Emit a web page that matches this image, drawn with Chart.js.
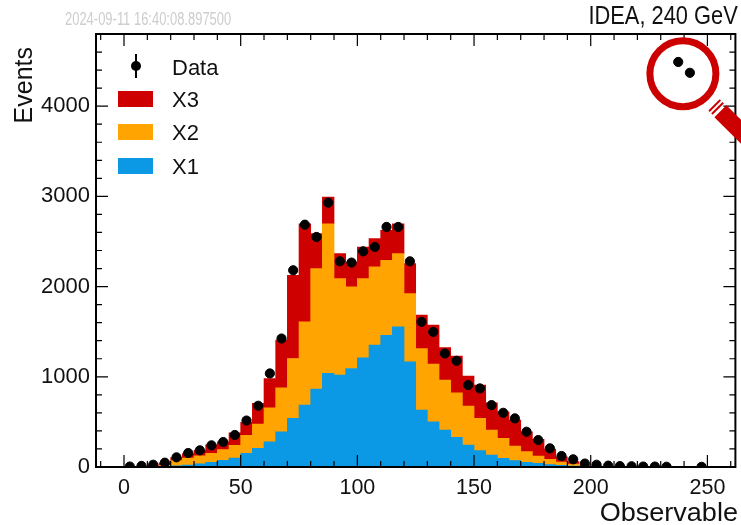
<!DOCTYPE html>
<html>
<head>
<meta charset="utf-8">
<script src="https://cdn.jsdelivr.net/npm/chart.js@4.4.1/dist/chart.umd.min.js"></script>
<style>
  body { margin: 0; background: #fff; }
  #wrap { position: relative; width: 741px; height: 525px; font-family: "Liberation Sans", Arial, sans-serif; color: #111; }
  #wrap canvas { position: absolute; left: 0; top: 0; }
  .txt { position: absolute; white-space: nowrap; line-height: 1; }
  #stamp { left: 65px; top: 10px; font-size: 18px; color: #cdcdcd; transform: scaleX(0.72); transform-origin: left top; }
  #energy { right: 3px; top: 2px; font-size: 26px; transform: scaleX(0.84); transform-origin: right top; }
  #ytitle { left: 11px; top: 47px; font-size: 25px; writing-mode: vertical-rl; transform: rotate(180deg); }
  #xtitle { right: 3px; top: 499px; font-size: 26px; transform: scaleX(1.04); transform-origin: right top; }
  .leg { position: absolute; font-size: 22px; line-height: 1; }
  .sw { position: absolute; width: 35px; height: 16px; }
  #dotline { position: absolute; left: 135px; top: 54px; width: 2px; height: 24px; background: #000; }
  #dot { position: absolute; left: 131px; top: 61px; width: 10px; height: 10px; border-radius: 50%; background: #000; }
</style>
</head>
<body>
<div id="wrap">
  <canvas id="histo" width="741" height="525"></canvas>
  <div class="txt" id="stamp">2024-09-11 16:40:08.897500</div>
  <div class="txt" id="energy">IDEA, 240 GeV</div>
  <div class="txt" id="ytitle">Events</div>
  <div class="txt" id="xtitle">Observable</div>
  <div id="dotline"></div><div id="dot"></div>
  <div class="leg" style="left:172px; top:57px;">Data</div>
  <div class="sw" style="left:118px; top:91px; background:#cf0000;"></div>
  <div class="leg" style="left:172px; top:89px;">X3</div>
  <div class="sw" style="left:118px; top:124px; background:#ffa400;"></div>
  <div class="leg" style="left:172px; top:122px;">X2</div>
  <div class="sw" style="left:118px; top:158px; background:#0b98e4;"></div>
  <div class="leg" style="left:172px; top:156px;">X1</div>
</div>
<script>
// bin centres (5 units wide bins)
const binCenters = [2.5, 7.5, 12.5, 17.5, 22.5, 27.5, 32.5, 37.5, 42.5, 47.5,
  52.5, 57.5, 62.5, 67.5, 72.5, 77.5, 82.5, 87.5, 92.5, 97.5,
  102.5, 107.5, 112.5, 117.5, 122.5, 127.5, 132.5, 137.5, 142.5, 147.5,
  152.5, 157.5, 162.5, 167.5, 172.5, 177.5, 182.5, 187.5, 192.5, 197.5,
  202.5, 207.5, 212.5, 217.5, 222.5, 227.5, 232.5, 237.5, 242.5, 247.5];

const x1 = [0, 0, 1, 3, 12, 22, 35, 52, 75, 100,
  151, 207, 280, 391, 539, 686, 863, 1037, 1018, 1092,
  1210, 1351, 1461, 1554, 1166, 631, 502, 410, 328, 244,
  181, 133, 96, 70, 52, 41, 26, 18, 11, 4,
  2, 0, 0, 0, 0, 0, 0, 0, 0, 0];

const x2 = [1, 3, 7, 15, 58, 76, 90, 100, 117, 140,
  199, 268, 377, 487, 664, 923, 1336, 1660, 1071, 904,
  879, 867, 830, 811, 756, 682, 638, 553, 495, 431,
  358, 277, 221, 162, 118, 81, 59, 37, 22, 14,
  5, 2, 0, 0, 0, 0, 0, 0, 0, 0];

const x3 = [2, 5, 12, 27, 35, 50, 60, 93, 86, 140,
  145, 230, 324, 528, 922, 1088, 388, 296, 276, 277,
  350, 313, 332, 332, 333, 370, 432, 362, 406, 332,
  369, 302, 295, 288, 221, 184, 114, 59, 26, 4,
  2, 1, 1, 0, 0, 0, 0, 0, 0, 0];

const observed = [5, 12, 25, 48, 107, 155, 185, 240, 277, 355,
  515, 679, 1037, 1424, 2181, 2686, 2550, 2930, 2280, 2266,
  2391, 2439, 2661, 2661, 2280, 1609, 1498, 1258, 1177, 908,
  871, 686, 601, 539, 391, 299, 207, 122, 85, 38,
  25, 15, 10, 8, 5, 5, 3, 4490, 4370, 2];

const xTicks = [0, 50, 100, 150, 200, 250];
const yTicks = [0, 1000, 2000, 3000, 4000];

const colors = { X1: '#0b98e4', X2: '#ffa400', X3: '#cf0000' };

const pts = arr => binCenters.map((c, i) => ({ x: c, y: arr[i] }));

// ROOT style frame with inward ticks on all four sides
const frame = {
  id: 'frame',
  afterDatasetsDraw(chart) {
    const { ctx, chartArea: a, scales: { x, y } } = chart;
    ctx.save();
    ctx.strokeStyle = '#000';
    ctx.lineWidth = 1.2;
    ctx.beginPath();
    for (let v = -10; v <= 260; v += 10) {
      const px = x.getPixelForValue(v);
      const len = v % 50 === 0 ? 12 : 6;
      ctx.moveTo(px, a.bottom); ctx.lineTo(px, a.bottom - len);
      ctx.moveTo(px, a.top); ctx.lineTo(px, a.top + len);
    }
    for (let v = 0; v <= 4800; v += 200) {
      const py = y.getPixelForValue(v);
      const len = v % 1000 === 0 ? 12 : 6;
      ctx.moveTo(a.left, py); ctx.lineTo(a.left + len, py);
      ctx.moveTo(a.right, py); ctx.lineTo(a.right - len, py);
    }
    ctx.stroke();
    ctx.lineWidth = 2;
    ctx.strokeRect(a.left, a.top, a.right - a.left, a.bottom - a.top);
    ctx.restore();
  }
};

// red magnifier drawn around the two outlying points
const magnifier = {
  id: 'magnifier',
  afterDraw(chart) {
    const { ctx, scales: { x, y } } = chart;
    const cx = x.getPixelForValue(239.5);
    const cy = y.getPixelForValue(4360);
    const d = Math.SQRT1_2;
    ctx.save();
    ctx.strokeStyle = '#cc0000';
    ctx.lineWidth = 7;
    ctx.beginPath();
    ctx.arc(cx, cy, 33, 0, Math.PI * 2);
    ctx.stroke();
    ctx.lineCap = 'butt';
    ctx.lineWidth = 2;
    [45, 49].forEach(r => {
      ctx.beginPath();
      ctx.moveTo(cx + r * d - 8 * d, cy + r * d + 8 * d);
      ctx.lineTo(cx + r * d + 8 * d, cy + r * d - 8 * d);
      ctx.stroke();
    });
    ctx.lineWidth = 17;
    ctx.beginPath();
    ctx.moveTo(cx + 53 * d, cy + 53 * d);
    ctx.lineTo(cx + 120 * d, cy + 120 * d);
    ctx.stroke();
    ctx.restore();
  }
};

const barDs = (label, arr) => ({
  type: 'bar',
  label,
  data: pts(arr),
  backgroundColor: colors[label],
  borderWidth: 0,
  barPercentage: 1,
  categoryPercentage: 1
});

new Chart(document.getElementById('histo'), {
  type: 'bar',
  data: {
    datasets: [
      {
        type: 'scatter',
        label: 'Data',
        data: pts(observed),
        backgroundColor: '#000',
        borderColor: '#000',
        pointRadius: 4.6,
        pointHoverRadius: 4.6
      },
      barDs('X1', x1),
      barDs('X2', x2),
      barDs('X3', x3)
    ]
  },
  options: {
    responsive: false,
    animation: false,
    devicePixelRatio: 1,
    layout: { padding: { top: 34, right: 3, left: 0, bottom: 0 } },
    plugins: { legend: { display: false }, tooltip: { enabled: false } },
    scales: {
      x: {
        type: 'linear',
        stacked: true,
        offset: false,
        min: -12,
        max: 262,
        grid: { display: false, drawTicks: false, offset: false },
        border: { display: false },
        afterBuildTicks: s => { s.ticks = xTicks.map(v => ({ value: v })); },
        afterFit: s => { s.height = 58; },
        ticks: {
          padding: 8,
          color: '#111',
          font: { family: 'Liberation Sans', size: 21.5 },
          callback: v => String(v)
        }
      },
      y: {
        stacked: true,
        min: 0,
        max: 4800,
        grid: { display: false, drawTicks: false },
        border: { display: false },
        afterBuildTicks: s => { s.ticks = yTicks.map(v => ({ value: v })); },
        afterFit: s => { s.width = 96; },
        ticks: {
          padding: 6,
          color: '#111',
          font: { family: 'Liberation Sans', size: 22 },
          callback: v => String(v)
        }
      }
    }
  },
  plugins: [frame, magnifier]
});
</script>
</body>
</html>
